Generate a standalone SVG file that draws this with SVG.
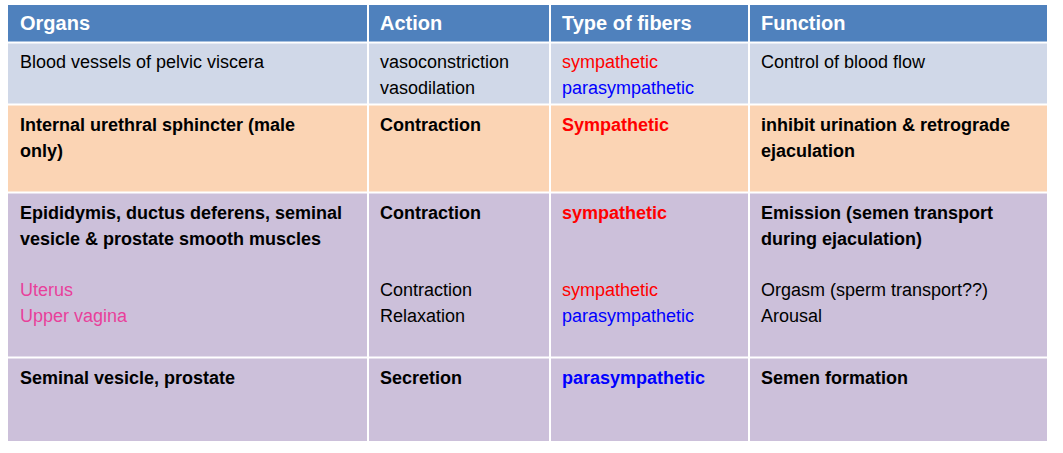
<svg xmlns="http://www.w3.org/2000/svg" width="1063" height="453" viewBox="0 0 1063 453">
<style>
text{font-family:"Liberation Sans",Arial,sans-serif;font-size:18px;fill:#000}
.h{fill:#fff;font-weight:bold;font-size:20px}
.b{font-weight:bold}
.r{fill:#f00}.bl{fill:#00f}.p{fill:#e8409a}
line{stroke:#fff;stroke-width:2}
</style>
<rect width="1063" height="453" fill="#fff"/>
<g id="header"><rect x="8" y="5" width="1039" height="37" fill="#4f81bd"/>
<text class="h" x="20" y="30">Organs</text><text class="h" x="380" y="30">Action</text><text class="h" x="562" y="30">Type of fibers</text><text class="h" x="761" y="30">Function</text></g>
<g id="row1"><rect x="8" y="43" width="1039" height="61" fill="#d0d8e8"/>
<text x="20" y="68">Blood vessels of pelvic viscera</text>
<text x="380" y="68">vasoconstriction</text><text x="380" y="94">vasodilation</text>
<text class="r" x="562" y="68">sympathetic</text><text class="bl" x="562" y="94">parasympathetic</text>
<text x="761" y="68">Control of blood flow</text></g>
<g id="row2"><rect x="8" y="105" width="1039" height="87" fill="#fbd4b4"/>
<text class="b" x="20" y="131">Internal urethral sphincter (male</text><text class="b" x="20" y="157">only)</text>
<text class="b" x="380" y="131">Contraction</text>
<text class="b r" x="562" y="131">Sympathetic</text>
<text class="b" x="761" y="131">inhibit urination &amp; retrograde</text><text class="b" x="761" y="157">ejaculation</text></g>
<g id="row3"><rect x="8" y="193" width="1039" height="164" fill="#ccc0da"/>
<text class="b" x="20" y="219">Epididymis, ductus deferens, seminal</text><text class="b" x="20" y="245">vesicle &amp; prostate smooth muscles</text>
<text class="b" x="380" y="219">Contraction</text>
<text class="b r" x="562" y="219">sympathetic</text>
<text class="b" x="761" y="219">Emission (semen transport</text><text class="b" x="761" y="245">during ejaculation)</text>
<text class="p" x="20" y="296">Uterus</text><text class="p" x="20" y="322">Upper vagina</text>
<text x="380" y="296">Contraction</text><text x="380" y="322">Relaxation</text>
<text class="r" x="562" y="296">sympathetic</text><text class="bl" x="562" y="322">parasympathetic</text>
<text x="761" y="296">Orgasm (sperm transport??)</text><text x="761" y="322">Arousal</text></g>
<g id="row4"><rect x="8" y="358" width="1039" height="83" fill="#ccc0da"/>
<text class="b" x="20" y="384">Seminal vesicle, prostate</text>
<text class="b" x="380" y="384">Secretion</text>
<text class="b bl" x="562" y="384">parasympathetic</text>
<text class="b" x="761" y="384">Semen formation</text></g>
<g id="grid"><line x1="368" y1="5" x2="368" y2="441"/><line x1="550" y1="5" x2="550" y2="441"/><line x1="749" y1="5" x2="749" y2="441"/>
<line x1="8" y1="42.5" x2="1047" y2="42.5"/><line x1="8" y1="104.5" x2="1047" y2="104.5"/><line x1="8" y1="192.5" x2="1047" y2="192.5"/><line x1="8" y1="357.5" x2="1047" y2="357.5"/></g>
</svg>
